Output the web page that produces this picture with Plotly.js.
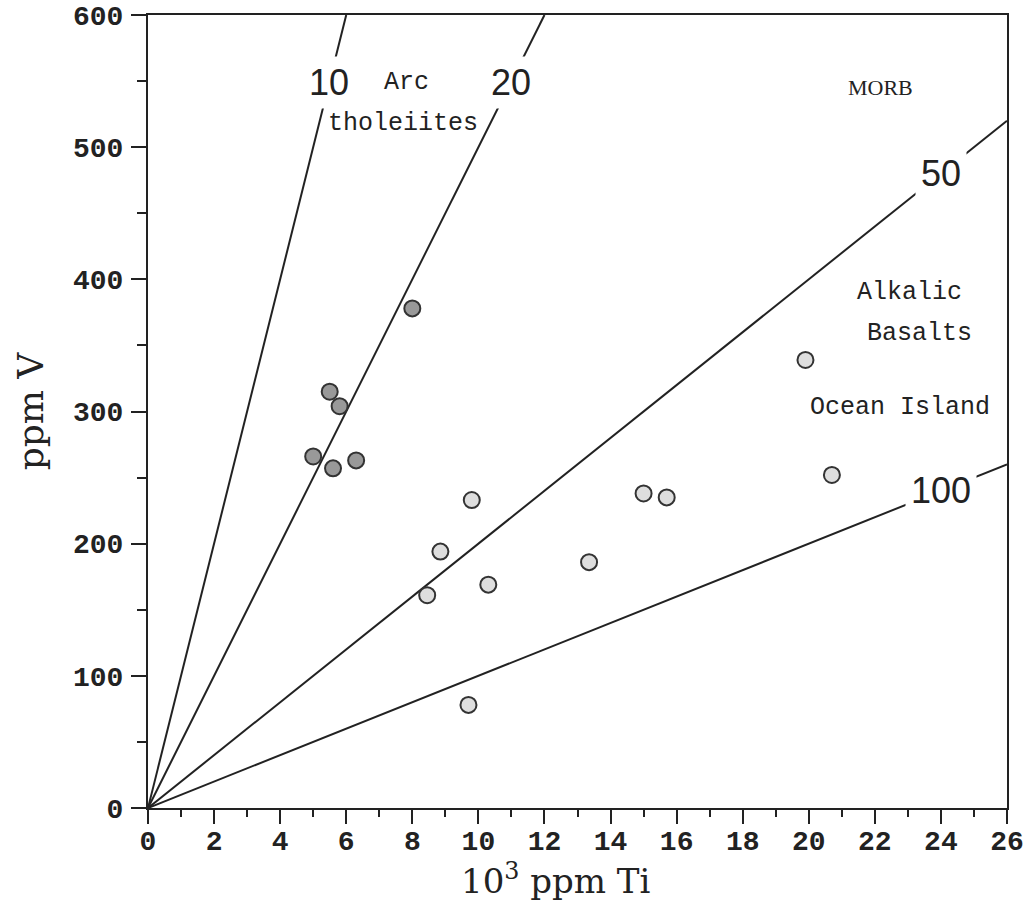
<!DOCTYPE html>
<html><head><meta charset="utf-8">
<script src="https://cdn.plot.ly/plotly-3.0.1.min.js"></script>
<style>html,body{margin:0;padding:0;background:#fff}#chart{width:1034px;height:908px}</style>
</head><body><div id="chart"></div>
<script>
// Ti/V reference ratios
const ratios = [10, 20, 50, 100];
const ratioLabels = ['10', '20', '50', '100'];
// Arc tholeiite samples (10^3 ppm Ti, ppm V)
const arcTi = [8.0, 5.5, 5.8, 5.0, 5.6, 6.3];
const arcV  = [378, 315, 304, 266, 257, 263];
// Other samples
const oibTi = [9.8, 8.85, 10.3, 8.45, 9.7, 19.9, 20.7, 15.0, 15.7, 13.35];
const oibV  = [233, 194, 169, 161, 78, 339, 252, 238, 235, 186];
// Field labels
const fieldText = ['Arc', 'tholeiites', 'MORB', 'Alkalic', 'Basalts', 'Ocean Island'];
const fieldTi   = [7.83, 7.71, 22.18, 23.06, 23.35, 22.76];
const fieldV    = [549, 518, 545, 390, 359, 303];

const XMAX = 26, YMAX = 600;
const ink = '#222';

const traces = [];
ratios.forEach((r, i) => {
  const tiEnd = Math.min(XMAX, YMAX * r / 1000);
  traces.push({
    x: [0, tiEnd], y: [0, 1000 * tiEnd / r],
    mode: 'lines', line: {color: ink, width: 2},
    hoverinfo: 'skip', showlegend: false
  });
});
traces.push({
  x: arcTi, y: arcV, mode: 'markers', name: 'Arc tholeiites',
  marker: {size: 16, color: '#999', line: {color: '#333', width: 2}},
  showlegend: false
});
traces.push({
  x: oibTi, y: oibV, mode: 'markers', name: 'Samples',
  marker: {size: 16, color: '#dedede', line: {color: '#333', width: 2}},
  showlegend: false
});

const annotations = [];
// ratio labels sitting on their lines
ratios.forEach((r, i) => {
  let ax, ay;
  if (r <= 20) { ay = 549; ax = ay * r / 1000; }
  else { ax = 24; ay = 1000 * ax / r; }
  annotations.push({
    x: ax, y: ay, xref: 'x', yref: 'y', text: ratioLabels[i], showarrow: false,
    font: {family: 'Liberation Sans, Arial, sans-serif', size: 36, color: ink},
    bgcolor: '#fff', borderpad: 5
  });
});
fieldText.forEach((t, i) => {
  const isMorb = t === 'MORB';
  annotations.push({
    x: fieldTi[i], y: fieldV[i], xref: 'x', yref: 'y', text: t, showarrow: false,
    font: isMorb ? {family: 'Liberation Serif, serif', size: 22, color: ink}
                 : {family: 'Liberation Mono, Courier New, monospace', size: 25, color: ink}
  });
});
// x-axis title
annotations.push({
  x: 0.474, y: 0, xref: 'paper', yref: 'paper', yanchor: 'top', yshift: -47,
  text: '10<sup>3</sup> ppm Ti', showarrow: false,
  font: {family: 'DejaVu Serif, serif', size: 34, color: ink}
});

const axisCommon = {
  showgrid: false, zeroline: false, showline: true, mirror: true,
  linecolor: ink, linewidth: 2, ticks: 'outside', tickcolor: ink, tickwidth: 2,
  tickfont: {family: 'Liberation Mono, Courier New, monospace', size: 28, color: ink, weight: 'bold'}
};

const layout = {
  width: 1034, height: 908,
  margin: {l: 148, r: 27, t: 15, b: 100},
  paper_bgcolor: '#fff', plot_bgcolor: '#fff',
  showlegend: false,
  xaxis: Object.assign({}, axisCommon, {
    range: [0, XMAX], dtick: 2, tick0: 0, ticklen: 14,
    minor: {dtick: 1, ticklen: 7, ticks: 'outside', tickcolor: ink, tickwidth: 2},
    ticklabelstandoff: -8
  }),
  yaxis: Object.assign({}, axisCommon, {
    range: [0, YMAX], dtick: 100, tick0: 0, ticklen: 15,
    minor: {dtick: 50, ticklen: 9, ticks: 'outside', tickcolor: ink, tickwidth: 2},
    ticklabelstandoff: 2,
    title: {text: 'ppm V', font: {family: 'DejaVu Serif, serif', size: 36, color: ink}, standoff: 18}
  }),
  annotations: annotations
};

Plotly.newPlot('chart', traces, layout, {displayModeBar: false, staticPlot: true});
</script></body></html>
